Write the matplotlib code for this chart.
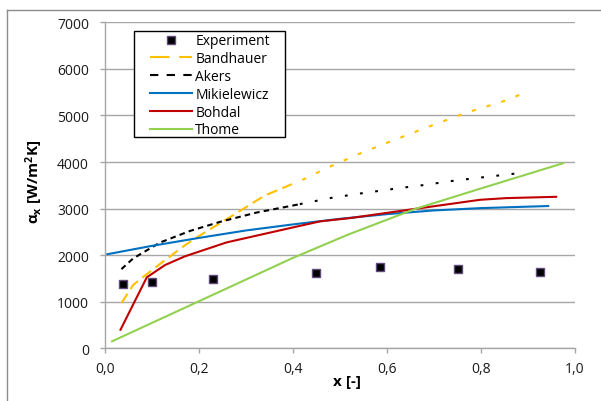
import matplotlib
matplotlib.use("Agg")
import matplotlib.pyplot as plt
from matplotlib.lines import Line2D
from matplotlib.patches import Rectangle

plt.rcParams['font.family'] = ['Open Sans', 'DejaVu Sans']
plt.rcParams['mathtext.fontset'] = 'custom'
plt.rcParams['mathtext.rm'] = 'Open Sans:bold'
plt.rcParams['mathtext.it'] = 'Open Sans:bold'
plt.rcParams['mathtext.bf'] = 'Open Sans:bold'
plt.rcParams['lines.scale_dashes'] = False

# ---- data ----
exp_x = [0.039, 0.101, 0.231, 0.450, 0.586, 0.751, 0.927]
exp_y = [1386, 1416, 1480, 1609, 1738, 1695, 1644]

band_x = [0.035, 0.06, 0.09, 0.13, 0.17, 0.20, 0.27, 0.34, 0.39, 0.43, 0.47, 0.54, 0.61, 0.70, 0.77, 0.85, 0.89]
band_y = [970, 1360, 1600, 1910, 2210, 2410, 2840, 3280, 3490, 3660, 3860, 4170, 4450, 4800, 5060, 5310, 5470]

akers_x = [0.035, 0.06, 0.117, 0.181, 0.245, 0.323, 0.415, 0.479, 0.545, 0.627, 0.678, 0.742, 0.813, 0.873]
akers_y = [1700, 1930, 2270, 2520, 2715, 2915, 3095, 3225, 3326, 3440, 3504, 3597, 3682, 3750]

mik_x = [0.005, 0.1, 0.2, 0.3, 0.4, 0.5, 0.6, 0.7, 0.8, 0.944]
mik_y = [2020, 2200, 2370, 2530, 2660, 2780, 2880, 2960, 3010, 3055]

boh_x = [0.033, 0.089, 0.128, 0.170, 0.259, 0.401, 0.458, 0.522, 0.657, 0.799, 0.855, 0.961]
boh_y = [399, 1524, 1788, 1974, 2274, 2597, 2725, 2796, 2989, 3189, 3225, 3253]

thome_x = [0.015, 0.2, 0.4, 0.52, 0.66, 0.8, 0.976]
thome_y = [150, 1010, 1940, 2450, 2990, 3430, 3975]

xticks = [0.0, 0.2, 0.4, 0.6, 0.8, 1.0]
xtick_labels = ['0,0', '0,2', '0,4', '0,6', '0,8', '1,0']
yticks = [0, 1000, 2000, 3000, 4000, 5000, 6000, 7000]

# ---- figure ----
W, H = 601, 402
fig = plt.figure(figsize=(W / 100, H / 100), dpi=100)
ax = fig.add_axes([105 / W, 1 - 349.3 / H, (574.5 - 105) / W, (349.3 - 23.3) / H])

grey = '#a6a6a6'
ax.set_xlim(0, 1.0)
ax.set_ylim(0, 7000)
ax.set_yticks(yticks)
ax.set_xticks(xticks)
ax.set_xticklabels(xtick_labels)
ax.yaxis.grid(True, color=grey, linewidth=1.0)
ax.set_axisbelow(True)
for s in ['top', 'right']:
    ax.spines[s].set_visible(False)
for s in ['left', 'bottom']:
    ax.spines[s].set_color(grey)
    ax.spines[s].set_linewidth(1.0)
ax.tick_params(axis='both', colors=grey, labelcolor='#1a1a1a', length=3.5, width=1.0, labelsize=10)
ax.tick_params(axis='y', pad=8)
ax.tick_params(axis='x', pad=6)

lw = 1.5
# Bandhauer (split dash styles)
k = 8
ax.plot(band_x[:k + 1], band_y[:k + 1], color='#FFC000', lw=lw, dashes=(8, 4))
ax.plot(band_x[k:], band_y[k:], color='#FFC000', lw=lw, dashes=(3, 8))
# Akers
k2 = 6
ax.plot(akers_x[:k2 + 1], akers_y[:k2 + 1], color='black', lw=lw, dashes=(4, 3))
ax.plot(akers_x[k2:], akers_y[k2:], color='black', lw=lw, dashes=(2, 9))
ax.plot(mik_x, mik_y, color='#0070C0', lw=lw)
ax.plot(boh_x, boh_y, color='#C00000', lw=lw)
ax.plot(thome_x, thome_y, color='#92D050', lw=lw)
ax.plot(exp_x, exp_y, linestyle='none', marker='s', markersize=6.3,
        markerfacecolor='black', markeredgecolor='#604A7B', markeredgewidth=1.0, zorder=5)

handles = [
    Line2D([], [], linestyle='none', marker='s', markersize=6.3, markerfacecolor='black',
           markeredgecolor='#604A7B', markeredgewidth=1.0),
    Line2D([], [], color='#FFC000', lw=lw, dashes=(14, 7)),
    Line2D([], [], color='black', lw=lw, dashes=(6, 6)),
    Line2D([], [], color='#0070C0', lw=lw),
    Line2D([], [], color='#C00000', lw=lw),
    Line2D([], [], color='#92D050', lw=lw),
]
labels = ['Experiment', 'Bandhauer', 'Akers', 'Mikielewicz', 'Bohdal', 'Thome']
leg = fig.legend(handles, labels, loc='upper left', bbox_to_anchor=(150 / W, 1 - 34.5 / H),
                 fontsize=10, frameon=False, handlelength=3.0, handletextpad=0.25,
                 borderpad=0, labelspacing=0.2, borderaxespad=0)
fig.add_artist(Rectangle((134.3 / W, 1 - 138.3 / H), (285 - 134.3) / W, (138.3 - 31.7) / H,
                         transform=fig.transFigure, facecolor='white', edgecolor='black',
                         lw=1.0, zorder=2.5))
leg.set_zorder(3)

ax.set_xlabel('x [-]', fontsize=11, fontweight='bold')
ax.xaxis.set_label_coords((346.7 - 105) / (574.5 - 105), -(381.7 - 349.3) / (349.3 - 23.3), transform=ax.transAxes)
ax.xaxis.label.set_va('center')
ax.set_ylabel(r'$\alpha_x$ [W/m$^2$K]', fontsize=11, fontweight='bold')
ax.yaxis.set_label_coords(-(105 - 34) / (574.5 - 105), (349.3 - 182) / (349.3 - 23.3))
ax.yaxis.label.set_va('center')

# outer chart border (left and top visible)
fig.add_artist(Line2D([7 / W, 7 / W], [0, 1 - 10.7 / H], transform=fig.transFigure, color='#8c8c8c', lw=1.0))
fig.add_artist(Line2D([7 / W, 1], [1 - 10.7 / H, 1 - 10.7 / H], transform=fig.transFigure, color='#8c8c8c', lw=1.0))

fig.savefig('out.png', dpi=100)
